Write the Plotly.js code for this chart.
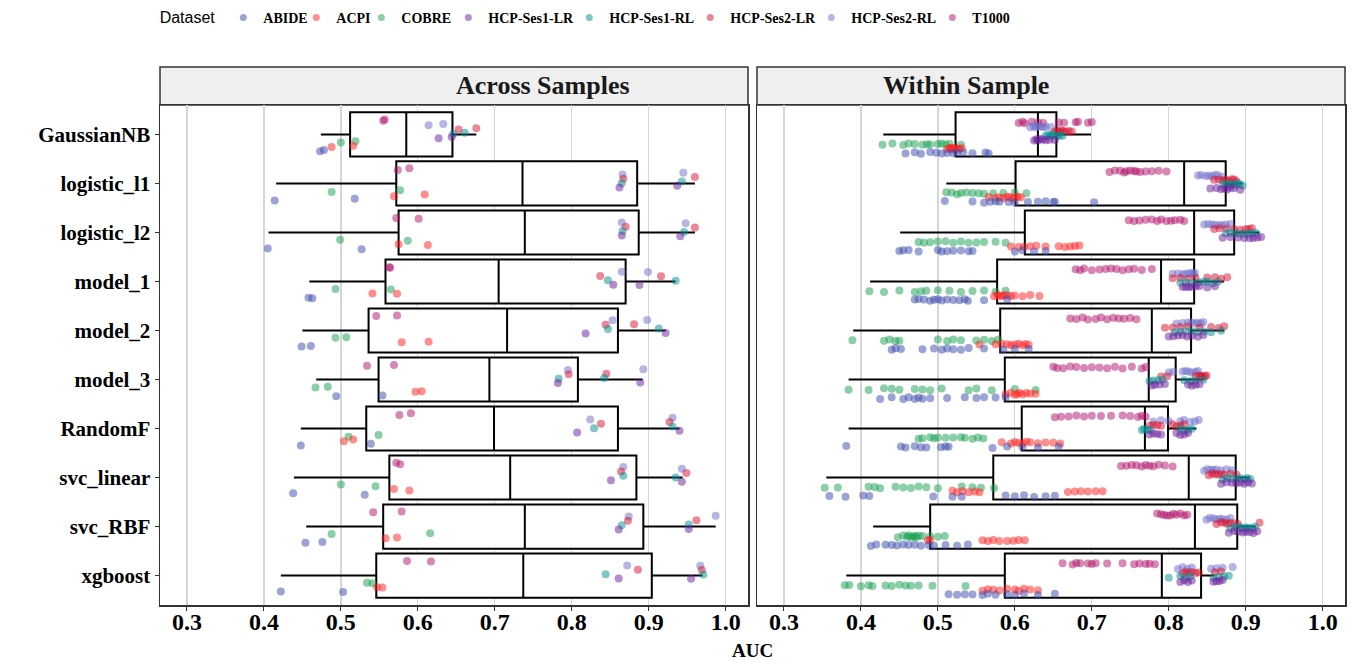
<!DOCTYPE html>
<html><head><meta charset="utf-8">
<script src="https://cdn.plot.ly/plotly-3.0.1.min.js"></script>
<style>html,body{margin:0;padding:0;background:#fff}#chart{width:1365px;height:662px}</style>
</head><body><div id="chart"></div>
<script>
const models = ['GaussianNB','logistic_l1','logistic_l2','model_1','model_2','model_3','RandomF','svc_linear','svc_RBF','xgboost'];
const datasets = ['ABIDE','ACPI','COBRE','HCP-Ses1-LR','HCP-Ses1-RL','HCP-Ses2-LR','HCP-Ses2-RL','T1000'];
const panelTitles = ['Across Samples','Within Sample'];
const xTickVals = [0.3,0.4,0.5,0.6,0.7,0.8,0.9,1.0];
const xTickText = ['0.3','0.4','0.5','0.6','0.7','0.8','0.9','1.0'];

// Box summaries (per model), Across Samples
const acrossQ1  = [0.512,0.572,0.575,0.558,0.536,0.549,0.533,0.563,0.555,0.546];
const acrossMed = [0.585,0.736,0.739,0.705,0.716,0.693,0.699,0.720,0.739,0.737];
const acrossQ3  = [0.645,0.885,0.887,0.870,0.860,0.808,0.860,0.884,0.893,0.904];
const acrossLo  = [0.474,0.416,0.406,0.459,0.450,0.468,0.448,0.439,0.455,0.422];
const acrossHi  = [0.676,0.960,0.960,0.935,0.922,0.892,0.940,0.944,0.987,0.970];
// Box summaries (per model), Within Sample
const withinQ1  = [0.523,0.601,0.613,0.577,0.581,0.587,0.609,0.572,0.490,0.587];
const withinMed = [0.630,0.820,0.833,0.790,0.778,0.774,0.769,0.826,0.834,0.791];
const withinQ3  = [0.654,0.874,0.885,0.833,0.829,0.809,0.799,0.887,0.889,0.842];
const withinLo  = [0.429,0.511,0.451,0.412,0.390,0.384,0.384,0.355,0.416,0.381];
const withinHi  = [0.699,0.896,0.918,0.872,0.872,0.846,0.836,0.905,0.913,0.859];

// Across Samples points, one sub-array per model
const acrossABIDE = [[0.478,0.473],[0.518,0.414],[0.405,0.527],[0.458,0.463],[0.449,0.461],[0.554,0.494],[0.539,0.448],[0.531,0.438],[0.454,0.476],[0.422,0.503]];
const acrossACPI  = [[0.516,0.488],[0.569,0.609],[0.575,0.613],[0.541,0.573],[0.579,0.614],[0.605,0.597],[0.504,0.516],[0.589,0.569],[0.558,0.573],[0.554,0.547]];
const acrossCOBRE = [[0.519,0.500],[0.577,0.488],[0.587,0.499],[0.565,0.493],[0.493,0.507],[0.483,0.467],[0.549,0.510],[0.545,0.500],[0.616,0.488],[0.534,0.541]];
const acrossS1LR  = [[0.627,0.644],[0.862,0.937],[0.865,0.941],[0.854,0.888],[0.922,0.818],[0.782,0.889],[0.940,0.807],[0.943,0.851],[0.952,0.861],[0.861,0.955]];
const acrossS1RL  = [[0.646,0.661],[0.943,0.865],[0.946,0.866],[0.935,0.847],[0.847,0.913],[0.783,0.842],[0.829,0.931],[0.935,0.867],[0.952,0.865],[0.844,0.971]];
const acrossS2LR  = [[0.653,0.676],[0.960,0.867],[0.870,0.960],[0.837,0.916],[0.844,0.881],[0.796,0.845],[0.838,0.927],[0.864,0.949],[0.873,0.962],[0.886,0.969]];
const acrossS2RL  = [[0.614,0.633],[0.866,0.945],[0.948,0.865],[0.865,0.899],[0.898,0.853],[0.795,0.893],[0.824,0.931],[0.867,0.943],[0.874,0.987],[0.872,0.967]];
const acrossT1000 = [[0.557,0.555],[0.574,0.589],[0.572,0.601],[0.563,0.564],[0.546,0.573],[0.569,0.534],[0.576,0.591],[0.572,0.577],[0.542,0.579],[0.586,0.617]];

// Within Sample points, one sub-array per model
const withinABIDE = [
 [0.458,0.470,0.478,0.490,0.498,0.505,0.512,0.520,0.525,0.533,0.545,0.562,0.566],
 [0.509,0.545,0.560,0.568,0.575,0.580,0.592,0.600,0.617,0.630,0.640,0.650,0.652,0.703],
 [0.450,0.455,0.462,0.475,0.500,0.505,0.512,0.520,0.530,0.540,0.545,0.600,0.610,0.625,0.640],
 [0.470,0.475,0.482,0.490,0.495,0.500,0.505,0.512,0.520,0.528,0.535,0.539,0.560,0.590],
 [0.440,0.445,0.452,0.480,0.495,0.505,0.512,0.520,0.530,0.540,0.560,0.585,0.600,0.618],
 [0.425,0.440,0.455,0.462,0.470,0.475,0.480,0.490,0.512,0.535,0.550,0.560,0.575,0.588],
 [0.381,0.452,0.458,0.470,0.478,0.485,0.504,0.510,0.514,0.571,0.590,0.610,0.630,0.657],
 [0.359,0.380,0.403,0.411,0.494,0.519,0.531,0.588,0.600,0.612,0.625,0.640,0.652],
 [0.413,0.420,0.432,0.440,0.447,0.455,0.462,0.470,0.478,0.488,0.495,0.510,0.525,0.539],
 [0.514,0.525,0.535,0.545,0.558,0.565,0.575,0.590,0.600,0.612,0.630,0.652]];
const withinACPI = [
 [0.512,0.515,0.518,0.520,0.522,0.525,0.528,0.531,0.517],
 [0.566,0.575,0.580,0.585,0.590,0.593,0.597,0.600,0.604,0.608],
 [0.595,0.605,0.612,0.620,0.628,0.640,0.657,0.665,0.672,0.678,0.684],
 [0.573,0.577,0.580,0.583,0.586,0.590,0.595,0.600,0.610,0.620,0.632],
 [0.554,0.575,0.583,0.590,0.595,0.600,0.605,0.610,0.614,0.618],
 [0.588,0.595,0.600,0.603,0.606,0.610,0.615,0.620,0.627],
 [0.583,0.595,0.600,0.605,0.610,0.615,0.620,0.630,0.640,0.650,0.659],
 [0.519,0.525,0.532,0.540,0.548,0.554,0.669,0.678,0.686,0.695,0.705,0.714],
 [0.487,0.490,0.558,0.565,0.572,0.580,0.590,0.598,0.605,0.613],
 [0.558,0.565,0.572,0.580,0.590,0.600,0.605,0.612,0.620,0.630]];
const withinCOBRE = [
 [0.428,0.441,0.455,0.462,0.470,0.480,0.486,0.490,0.500,0.505,0.510,0.515,0.530],
 [0.511,0.518,0.525,0.530,0.537,0.545,0.553,0.560,0.572,0.585,0.600,0.615],
 [0.475,0.482,0.490,0.500,0.510,0.520,0.530,0.540,0.550,0.560,0.575,0.588],
 [0.411,0.430,0.450,0.470,0.478,0.485,0.500,0.515,0.530,0.545,0.560,0.575,0.588],
 [0.389,0.430,0.437,0.445,0.450,0.500,0.512,0.520,0.530,0.550,0.560,0.570,0.578],
 [0.384,0.410,0.430,0.440,0.450,0.470,0.480,0.490,0.505,0.540,0.550,0.570,0.600,0.627],
 [0.475,0.480,0.490,0.495,0.500,0.510,0.520,0.530,0.535,0.545,0.552,0.559],
 [0.353,0.370,0.410,0.418,0.425,0.445,0.455,0.465,0.475,0.485,0.500,0.531,0.545,0.556,0.573],
 [0.448,0.455,0.460,0.462,0.465,0.468,0.470,0.472,0.475,0.480,0.490,0.500,0.509],
 [0.379,0.385,0.400,0.410,0.415,0.432,0.440,0.450,0.458,0.465,0.475,0.493,0.536]];
const withinS1LR = [
 [0.625,0.628,0.630,0.633,0.636,0.640,0.645,0.652],
 [0.854,0.862,0.868,0.872,0.876,0.880,0.885,0.893],
 [0.870,0.880,0.890,0.898,0.905,0.910,0.915,0.920],
 [0.818,0.822,0.826,0.830,0.835,0.840,0.850,0.860],
 [0.800,0.806,0.812,0.818,0.824,0.830,0.838,0.845],
 [0.778,0.782,0.788,0.795,0.825,0.830,0.835,0.840],
 [0.775,0.780,0.785,0.790,0.810,0.815,0.820,0.825],
 [0.868,0.875,0.882,0.888,0.893,0.898,0.903,0.908],
 [0.878,0.885,0.890,0.896,0.900,0.905,0.910,0.915],
 [0.815,0.820,0.825,0.830,0.858,0.862,0.866,0.870]];
const withinS1RL = [
 [0.640,0.643,0.646,0.648,0.650,0.655,0.658,0.662],
 [0.871,0.875,0.879,0.882,0.886,0.889,0.892,0.896],
 [0.874,0.880,0.886,0.892,0.898,0.903,0.908,0.913],
 [0.815,0.822,0.830,0.838,0.845,0.850,0.857,0.864],
 [0.808,0.815,0.822,0.830,0.838,0.846,0.855,0.868],
 [0.775,0.780,0.786,0.792,0.820,0.828,0.835,0.845],
 [0.765,0.768,0.772,0.776,0.815,0.820,0.825,0.830],
 [0.870,0.876,0.882,0.888,0.893,0.898,0.902,0.906],
 [0.880,0.886,0.892,0.896,0.900,0.904,0.908,0.912],
 [0.800,0.815,0.822,0.828,0.858,0.865,0.872,0.878]];
const withinS2LR = [
 [0.652,0.655,0.658,0.660,0.663,0.666,0.670,0.674],
 [0.859,0.865,0.870,0.874,0.878,0.882,0.885,0.888],
 [0.859,0.866,0.875,0.885,0.893,0.900,0.904,0.908],
 [0.805,0.815,0.825,0.835,0.850,0.860,0.868,0.876],
 [0.795,0.805,0.815,0.825,0.840,0.855,0.865,0.872],
 [0.790,0.798,0.835,0.840,0.844,0.847,0.849,0.842],
 [0.775,0.780,0.785,0.790,0.805,0.810,0.815,0.820],
 [0.852,0.856,0.860,0.864,0.868,0.872,0.880,0.888],
 [0.862,0.868,0.872,0.876,0.880,0.885,0.890,0.918],
 [0.818,0.822,0.826,0.830,0.835,0.839,0.860,0.868]];
const withinS2RL = [
 [0.620,0.624,0.627,0.630,0.633,0.637,0.640,0.647],
 [0.838,0.842,0.848,0.852,0.856,0.860,0.864,0.869],
 [0.846,0.851,0.856,0.860,0.865,0.869,0.874,0.880],
 [0.805,0.812,0.818,0.822,0.826,0.830,0.832,0.834],
 [0.810,0.818,0.825,0.830,0.835,0.838,0.842,0.845],
 [0.800,0.806,0.818,0.822,0.826,0.830,0.835,0.838],
 [0.780,0.790,0.800,0.815,0.820,0.828,0.834,0.839],
 [0.846,0.850,0.855,0.858,0.862,0.868,0.875,0.882],
 [0.849,0.853,0.858,0.862,0.866,0.870,0.875,0.880],
 [0.812,0.818,0.824,0.830,0.855,0.862,0.870,0.883]];
const withinT1000 = [
 [0.605,0.610,0.613,0.622,0.630,0.637,0.657,0.664,0.679,0.682,0.695,0.700],
 [0.723,0.730,0.737,0.742,0.745,0.750,0.755,0.758,0.763,0.770,0.778,0.787,0.797],
 [0.748,0.755,0.762,0.770,0.778,0.785,0.790,0.797,0.803,0.808,0.815,0.820],
 [0.679,0.685,0.690,0.700,0.710,0.718,0.725,0.732,0.740,0.748,0.755,0.765,0.778],
 [0.672,0.680,0.688,0.695,0.705,0.712,0.720,0.728,0.735,0.742,0.750,0.758],
 [0.650,0.655,0.663,0.672,0.680,0.690,0.700,0.710,0.720,0.730,0.740,0.752,0.765,0.770],
 [0.652,0.660,0.670,0.680,0.690,0.700,0.712,0.725,0.740,0.750,0.760,0.765,0.770],
 [0.738,0.745,0.752,0.758,0.765,0.770,0.775,0.780,0.787,0.795,0.805],
 [0.785,0.790,0.794,0.798,0.802,0.806,0.810,0.815,0.820,0.824],
 [0.662,0.675,0.680,0.685,0.695,0.700,0.705,0.720,0.740,0.755,0.762,0.770,0.775,0.782]];

const colors = ['#3949AB','#FF2020','#16A050','#6A1B9A','#009090','#D8102F','#6E6ECC','#B0126A'];
const legendWidths = [28,20,42,76,76,76,76,44];

const acrossSets = [acrossABIDE,acrossACPI,acrossCOBRE,acrossS1LR,acrossS1RL,acrossS2LR,acrossS2RL,acrossT1000];
const withinSets = [withinABIDE,withinACPI,withinCOBRE,withinS1LR,withinS1RL,withinS2LR,withinS2RL,withinT1000];

const serif = 'Liberation Serif, Times New Roman, serif';
const traces = [];

function summaryBox(q1, med, q3, lo, hi, xa, ya) {
  return {type:'box', orientation:'h', y:models, q1:q1, median:med, q3:q3,
    lowerfence:lo, upperfence:hi, boxpoints:false, width:0.9,
    fillcolor:'#ffffff', line:{color:'#000000', width:2}, whiskerwidth:0,
    xaxis:xa, yaxis:ya, showlegend:false, hoverinfo:'skip'};
}
traces.push(summaryBox(acrossQ1, acrossMed, acrossQ3, acrossLo, acrossHi, 'x', 'y'));
traces.push(summaryBox(withinQ1, withinMed, withinQ3, withinLo, withinHi, 'x2', 'y2'));

function pointsTrace(sets, di, xa, ya) {
  const xs = [], ys = [];
  sets[di].forEach((vals, mi) => vals.forEach(v => { xs.push(v); ys.push(models[mi]); }));
  return {type:'box', orientation:'h', x:xs, y:ys, name:datasets[di],
    boxpoints:'all', jitter:1, pointpos:0,
    fillcolor:'rgba(0,0,0,0)', line:{color:'rgba(0,0,0,0)', width:0},
    marker:{color:colors[di], size:8, opacity:0.5},
    xaxis:xa, yaxis:ya, showlegend:false, hoverinfo:'x'};
}
// dodged by dataset: last dataset on top of each band
for (let di = datasets.length - 1; di >= 0; di--) {
  traces.push(pointsTrace(acrossSets, di, 'x', 'y3'));
  traces.push(pointsTrace(withinSets, di, 'x2', 'y4'));
}
// legend entries
datasets.forEach((d, di) => {
  traces.push({type:'scatter', mode:'markers', x:[null], y:[null], name:d,
    marker:{color:colors[di], size:7, opacity:0.5}, xaxis:'x', yaxis:'y',
    showlegend:true, legendwidth:legendWidths[di], hoverinfo:'skip'});
});

const tickFont = {family:serif, size:21, color:'#000', weight:'bold'};
const xTickFont = {family:serif, size:24, color:'#000', weight:'bold'};
function xAxis(domain, anchor) {
  return {domain:domain, anchor:anchor, range:[0.265,1.029], tickvals:xTickVals, ticktext:xTickText,
    showgrid:true, gridcolor:'#D6D6D6', gridwidth:1.3, zeroline:false,
    showline:true, mirror:true, linecolor:'#333', linewidth:1.5,
    ticks:'outside', ticklen:4, tickcolor:'#333', tickfont:xTickFont, ticklabelstandoff:-9};
}
function yAxis(anchor, showLabels) {
  return {anchor:anchor, type:'category', categoryorder:'array', categoryarray:models,
    range:[9.6,-0.6], showgrid:false, zeroline:false,
    showline:true, mirror:true, linecolor:'#333', linewidth:1.5,
    ticks: showLabels ? 'outside' : '', ticklen:4, tickcolor:'#333',
    showticklabels:showLabels, tickfont:tickFont};
}
function overlayY(base, anchor) {
  return {overlaying:base, anchor:anchor, type:'category', categoryorder:'array', categoryarray:models,
    range:[9.6,-0.6], visible:false, showgrid:false, zeroline:false};
}
const d1 = 588/1185, d2 = 597/1185;
const stripH = 38/500;
const layout = {
  width:1365, height:662,
  margin:{l:160, r:20, t:105, b:57, autoexpand:false},
  paper_bgcolor:'#fff', plot_bgcolor:'#fff',
  boxmode:'group', boxgap:0.2, boxgroupgap:0, hovermode:false,
  xaxis: xAxis([0, d1], 'y'),
  xaxis2: xAxis([d2, 1], 'y2'),
  yaxis: yAxis('x', true),
  yaxis2: yAxis('x2', false),
  yaxis3: overlayY('y', 'x'),
  yaxis4: overlayY('y2', 'x2'),
  showlegend:true,
  legend:{orientation:'h', x:-0.002, xanchor:'left', y:1 + 87/500, yanchor:'middle',
    title:{text:'Dataset', font:{family:'Liberation Sans Narrow, Liberation Sans, Arial, sans-serif', size:16, color:'#000', weight:'normal'}},
    font:{family:serif, size:14, color:'#000', weight:'bold'}, itemwidth:30, bgcolor:'rgba(0,0,0,0)'},
  shapes:[
    {type:'rect', xref:'paper', yref:'paper', x0:0, x1:d1, y0:1, y1:1+stripH, fillcolor:'#EFEFEF', line:{color:'#333', width:1.5}, layer:'below'},
    {type:'rect', xref:'paper', yref:'paper', x0:d2, x1:1, y0:1, y1:1+stripH, fillcolor:'#EFEFEF', line:{color:'#333', width:1.5}, layer:'below'}
  ],
  annotations:[
    {xref:'paper', yref:'paper', x:d1/2, y:1+stripH/2, yanchor:'middle', text:panelTitles[0], showarrow:false, font:{family:serif, size:26, color:'#1a1a1a', weight:'bold'}},
    {xref:'paper', yref:'paper', x:(d2+1)/2, y:1+stripH/2, yanchor:'middle', text:panelTitles[1], showarrow:false, font:{family:serif, size:26, color:'#1a1a1a', weight:'bold'}},
    {xref:'paper', yref:'paper', x:0.5, y:-45/500, yanchor:'middle', text:'AUC', showarrow:false, font:{family:serif, size:19, color:'#000', weight:'bold'}}
  ]
};
Plotly.newPlot('chart', traces, layout, {displayModeBar:false, staticPlot:true});
</script>
</body></html>
